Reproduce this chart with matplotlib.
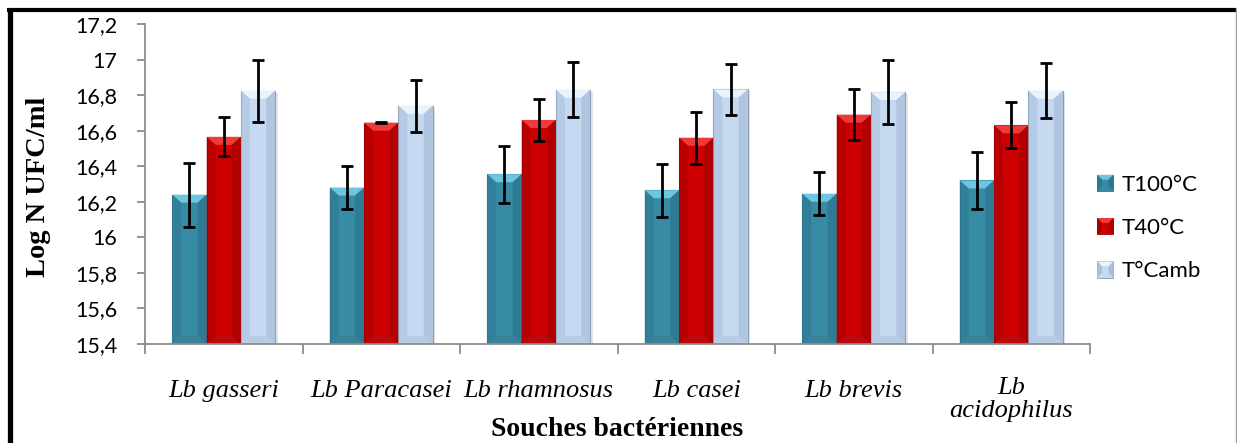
import numpy as np
import matplotlib
matplotlib.use("Agg")
import matplotlib.pyplot as plt
from matplotlib.patches import Polygon, Rectangle
from matplotlib.lines import Line2D
from matplotlib.legend_handler import HandlerBase
from matplotlib.ticker import FuncFormatter, FixedLocator

# ---- data ----
strains = ["Lb gasseri", "Lb Paracasei", "Lb rhamnosus", "Lb casei", "Lb brevis", "Lb\nacidophilus"]
series_names = ["T100°C", "T40°C", "T°Camb"]
t100 = [16.24, 16.28, 16.355, 16.265, 16.245, 16.32]
t100_err = [0.18, 0.12, 0.16, 0.15, 0.12, 0.16]
t40 = [16.565, 16.645, 16.66, 16.56, 16.69, 16.63]
t40_err = [0.11, 0.004, 0.12, 0.145, 0.145, 0.13]
tamb = [16.825, 16.74, 16.83, 16.832, 16.817, 16.824]
tamb_err = [0.175, 0.145, 0.155, 0.142, 0.18, 0.154]
y_min, y_max, y_step = 15.4, 17.2, 0.2

# colour sets: body, top face, side face, bottom face, outline
palettes = [
    dict(body="#388ba4", top="#6cc6e2", side="#2d7690", bottom="#3a8199", edge="#2f7890"),
    dict(body="#cc0000", top="#f03a3a", side="#a80000", bottom="#bb0a0a", edge="#a50000"),
    dict(body="#c5d9f1", top="#eaf3fc", side="#a9bfdb", bottom="#b7cbe4", edge="#8a9bb3"),
]

W, H, DPI = 1237, 443, 100
fig = plt.figure(figsize=(W / DPI, H / DPI), dpi=DPI)
ax = fig.add_axes([145 / W, 1 - 344 / H, (1090 - 145) / W, (344 - 24) / H])

ax.set_xlim(0, len(strains))
ax.set_ylim(y_min, y_max)

bar_w = 0.218
centers = np.arange(len(strains)) + 0.5
offsets = [-bar_w, 0.0, bar_w]

# pixel -> data conversion for the bevel faces
px_x = (ax.get_xlim()[1] - ax.get_xlim()[0]) / (1090 - 145)
px_y = (y_max - y_min) / (344 - 24)
bev_x, bev_y = 9 * px_x, 8 * px_y


def bevel_faces(x0, y0, w, h, pal, zorder):
    """Return polygons giving a bevelled (pyramid-edge) look to a rectangle."""
    x1, y1 = x0 + w, y0 + h
    dx = min(bev_x, w / 2.5)
    dy = min(bev_y, h / 2.5)
    top = Polygon([(x0, y1), (x1, y1), (x1 - dx, y1 - dy), (x0 + dx, y1 - dy)],
                  closed=True, facecolor=pal["top"], edgecolor="none", zorder=zorder)
    left = Polygon([(x0, y0), (x0, y1), (x0 + dx, y1 - dy), (x0 + dx, y0 + dy)],
                   closed=True, facecolor=pal["side"], edgecolor="none", alpha=0.55, zorder=zorder)
    right = Polygon([(x1, y0), (x1, y1), (x1 - dx, y1 - dy), (x1 - dx, y0 + dy)],
                    closed=True, facecolor=pal["side"], edgecolor="none", alpha=0.75, zorder=zorder)
    bottom = Polygon([(x0, y0), (x1, y0), (x1 - dx, y0 + dy), (x0 + dx, y0 + dy)],
                     closed=True, facecolor=pal["bottom"], edgecolor="none", zorder=zorder)
    return [top, left, right, bottom]


values = [t100, t40, tamb]
errors = [t100_err, t40_err, tamb_err]

for k, (vals, errs, pal, name) in enumerate(zip(values, errors, palettes, series_names)):
    xs = centers + offsets[k]
    heights = np.array(vals) - y_min
    bars = ax.bar(xs, heights, width=bar_w, bottom=y_min, color=pal["body"],
                  edgecolor=pal["edge"], linewidth=0.8, zorder=2, label=name)
    for rect in bars:
        for poly in bevel_faces(rect.get_x(), rect.get_y(), rect.get_width(),
                                rect.get_height(), pal, zorder=2.5):
            ax.add_patch(poly)
        # soft shadow on the right side
        ax.add_patch(Rectangle((rect.get_x() + rect.get_width(), rect.get_y()),
                               2.5 * px_x, rect.get_height() - 2 * px_y,
                               facecolor="#000000", alpha=0.10, edgecolor="none", zorder=1.5))
    ax.errorbar(xs, vals, yerr=errs, fmt="none", ecolor="black", elinewidth=2.0,
                capsize=4.5, capthick=2.0, zorder=4)

# ---- axes styling ----
axis_grey = "#8c8c8c"
for side in ["top", "right"]:
    ax.spines[side].set_visible(False)
for side in ["left", "bottom"]:
    ax.spines[side].set_color(axis_grey)
    ax.spines[side].set_linewidth(1.3)

yticks = [round(y_min + i * y_step, 1) for i in range(int(round((y_max - y_min) / y_step)) + 1)]
ax.yaxis.set_major_locator(FixedLocator(yticks))
ax.yaxis.set_major_formatter(FuncFormatter(lambda v, p: (f"{v:.1f}".rstrip("0").rstrip(".")).replace(".", ",")))
ax.tick_params(axis="y", direction="out", length=6, width=1.3, color=axis_grey,
               pad=14, labelsize=15.5, labelcolor="black")
for lab in ax.get_yticklabels():
    lab.set_fontfamily("Lato")

ax.set_xticks(np.arange(len(strains) + 1))
ax.set_xticklabels([])
ax.tick_params(axis="x", direction="out", length=7, width=1.3, color=axis_grey)

xlab_tf = ax.get_xaxis_transform()
for c, name in zip(centers, strains):
    ax.text(c, -0.148 - (0.025 if "\n" in name else 0.0), name, transform=xlab_tf,
            ha="center", va="center", fontsize=19, fontstyle="italic",
            fontfamily="Liberation Serif", linespacing=1.1)

fig.text(617 / W, 1 - 429 / H, "Souches bactériennes", ha="center", va="center",
         fontsize=20, fontweight="bold", fontfamily="Liberation Serif")
fig.text(39 / W, 1 - 187 / H, "Log N UFC/ml", ha="center", va="center", rotation=90,
         fontsize=20.5, fontweight="bold", fontfamily="Liberation Serif")


# ---- legend with bevelled keys ----
class BevelHandler(HandlerBase):
    def __init__(self, pal):
        super().__init__()
        self.pal = pal

    def create_artists(self, legend, orig_handle, xdescent, ydescent, width, height, fontsize, trans):
        s = min(width, height)
        x0, y0 = -xdescent + (width - s) / 2, -ydescent + (height - s) / 2
        d = s * 0.3
        p = self.pal
        x1, y1 = x0 + s, y0 + s
        arts = [
            Rectangle((x0, y0), s, s, facecolor=p["body"], edgecolor=p["edge"], linewidth=0.6),
            Polygon([(x0, y1), (x1, y1), (x1 - d, y1 - d), (x0 + d, y1 - d)], facecolor=p["top"], edgecolor="none"),
            Polygon([(x0, y0), (x0, y1), (x0 + d, y1 - d), (x0 + d, y0 + d)], facecolor=p["side"], edgecolor="none"),
            Polygon([(x1, y0), (x1, y1), (x1 - d, y1 - d), (x1 - d, y0 + d)], facecolor=p["side"], edgecolor="none"),
        ]
        for a in arts:
            a.set_transform(trans)
        return arts


handles, labels = ax.get_legend_handles_labels()
leg = fig.legend(handles, labels, loc="center left", bbox_to_anchor=(1097 / W, 1 - 228 / H),
                 frameon=False, borderpad=0, borderaxespad=0,
                 handlelength=0.75, handleheight=0.75, handletextpad=0.35, labelspacing=1.05,
                 prop={"family": "Lato", "size": 16},
                 handler_map={h: BevelHandler(p) for h, p in zip(handles, palettes)})

# ---- outer frame ----
fig.add_artist(Line2D([9.5 / W, 9.5 / W], [0, 1 - 8 / H], transform=fig.transFigure,
                      color="black", linewidth=3.8, solid_capstyle="butt"))
fig.add_artist(Line2D([7 / W, 1236 / W], [1 - 9.5 / H, 1 - 9.5 / H], transform=fig.transFigure,
                      color="black", linewidth=3.0, solid_capstyle="butt"))
fig.add_artist(Line2D([1235.5 / W, 1235.5 / W], [0, 1 - 8 / H], transform=fig.transFigure,
                      color="#a0a0a0", linewidth=1.0))

fig.savefig("out.png", dpi=DPI)
